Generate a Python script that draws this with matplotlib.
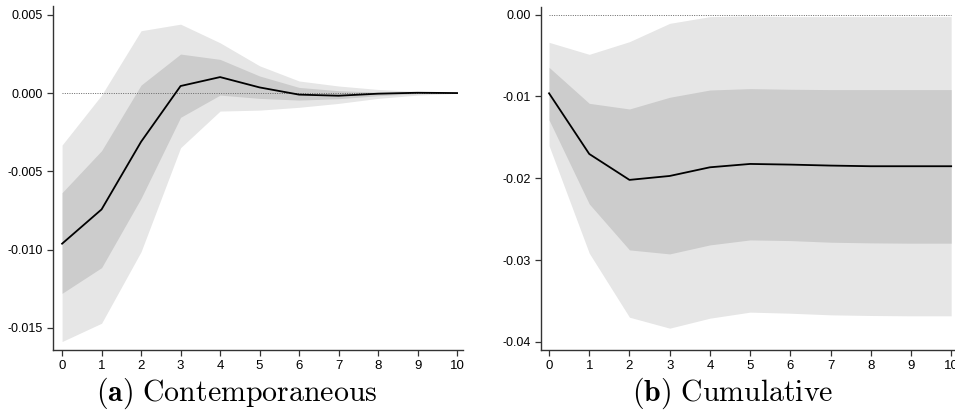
import matplotlib
matplotlib.use("Agg")
import matplotlib.pyplot as plt

plt.rcParams['mathtext.fontset'] = 'cm'

horizon = list(range(11))

# (a) contemporaneous response
contemp_irf = [-0.00962, -0.00743, -0.00311, 0.00045, 0.00102, 0.00036,
               -0.00010, -0.00017, -0.00004, 0.00002, 0.00000]
contemp_lo68 = [-0.01279, -0.01115, -0.00672, -0.00155, -0.00013, -0.00034,
                -0.00045, -0.00036, -0.00017, -0.00004, 0.00000]
contemp_hi68 = [-0.00636, -0.00368, 0.00051, 0.00249, 0.00215, 0.00109,
                0.00036, 0.00015, 0.00006, 0.00004, 0.00002]
contemp_lo95 = [-0.01587, -0.01470, -0.01013, -0.00349, -0.00115, -0.00109,
                -0.00091, -0.00066, -0.00034, -0.00013, -0.00002]
contemp_hi95 = [-0.00332, -0.00013, 0.00398, 0.00440, 0.00321, 0.00174,
                0.00077, 0.00045, 0.00023, 0.00010, 0.00004]

# (b) cumulative response
cum_irf = [-0.00961, -0.01703, -0.02020, -0.01972, -0.01866, -0.01825,
           -0.01833, -0.01845, -0.01853, -0.01853, -0.01853]
cum_lo68 = [-0.01287, -0.02314, -0.02876, -0.02925, -0.02815, -0.02754,
            -0.02762, -0.02782, -0.02790, -0.02794, -0.02794]
cum_hi68 = [-0.00644, -0.01084, -0.01153, -0.01010, -0.00921, -0.00904,
            -0.00912, -0.00916, -0.00916, -0.00916, -0.00916]
cum_lo95 = [-0.01601, -0.02916, -0.03699, -0.03833, -0.03711, -0.03637,
            -0.03650, -0.03670, -0.03678, -0.03682, -0.03682]
cum_hi95 = [-0.00338, -0.00485, -0.00330, -0.00106, -0.00024, -0.00016,
            -0.00024, -0.00024, -0.00024, -0.00024, -0.00024]

contemp_yticks = [0.005, 0.0, -0.005, -0.010, -0.015]
contemp_ylabels = ['0.005', '0.000', '-0.005', '-0.010', '-0.015']
cum_yticks = [0.0, -0.01, -0.02, -0.03, -0.04]
cum_ylabels = ['0.00', '-0.01', '-0.02', '-0.03', '-0.04']

captions = [r'$\mathbf{(a)}\ \mathrm{Contemporaneous}$',
            r'$\mathbf{(b)}\ \mathrm{Cumulative}$']

tick_font = ['Liberation Sans Narrow', 'Liberation Sans', 'DejaVu Sans']


def draw_panel(ax, irf, lo68, hi68, lo95, hi95, yticks, ylabels, xlim, ylim):
    ax.fill_between(horizon, lo95, hi95, color='#e6e6e6', linewidth=0)
    ax.fill_between(horizon, lo68, hi68, color='#cccccc', linewidth=0)
    ax.plot([0, 10], [0, 0], color='#666666', linestyle=(0, (1, 1.4)), linewidth=0.7)
    ax.plot(horizon, irf, color='black', linewidth=1.3)
    ax.set_xlim(*xlim)
    ax.set_ylim(*ylim)
    ax.set_xticks(horizon)
    ax.set_xticklabels([str(h) for h in horizon], family=tick_font, fontsize=9.5)
    ax.set_yticks(yticks)
    ax.set_yticklabels(ylabels, family=['Liberation Sans', 'DejaVu Sans'], fontsize=9)
    for side in ['top', 'right']:
        ax.spines[side].set_visible(False)
    for side in ['left', 'bottom']:
        ax.spines[side].set_color('#333333')
        ax.spines[side].set_linewidth(1.0)
    ax.tick_params(length=4, width=0.9, color='#333333', pad=3.5)


fig = plt.figure(figsize=(9.55, 4.2), dpi=100)
ax1 = fig.add_axes([53 / 955, 70 / 420, 410 / 955, 344 / 420])
ax2 = fig.add_axes([541 / 955, 70 / 420, 417 / 955, 343 / 420])

draw_panel(ax1, contemp_irf, contemp_lo68, contemp_hi68, contemp_lo95, contemp_hi95,
           contemp_yticks, contemp_ylabels, (-0.23, 10.15), (-0.01641, 0.00556))
draw_panel(ax2, cum_irf, cum_lo68, cum_hi68, cum_lo95, cum_hi95,
           cum_yticks, cum_ylabels, (-0.2, 10.17), (-0.0410, 0.00094))

fig.text(237 / 955, 1 - 393 / 420, captions[0], fontsize=21.5, ha='center', va='center')
fig.text(733 / 955, 1 - 393 / 420, captions[1], fontsize=21.5, ha='center', va='center')

fig.savefig('out.png', dpi=100)
